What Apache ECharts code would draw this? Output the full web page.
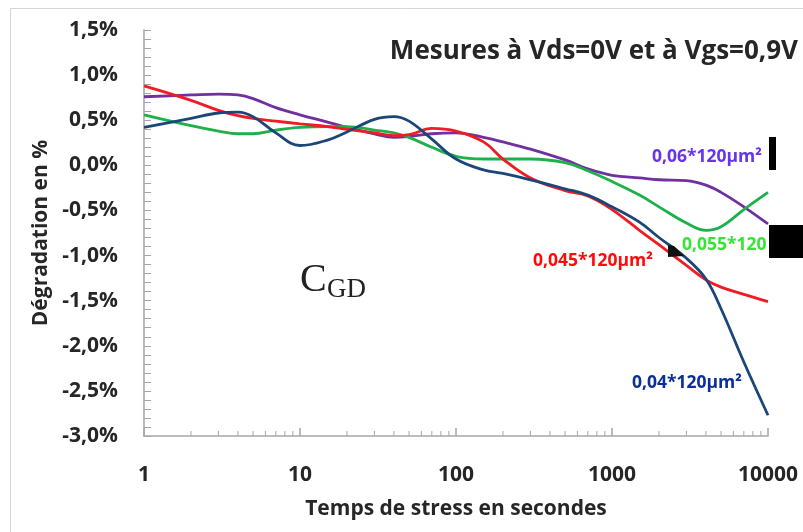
<!DOCTYPE html>
<html>
<head>
<meta charset="utf-8">
<script src="https://cdn.jsdelivr.net/npm/echarts@6/dist/echarts.min.js"></script>
<style>
html,body{margin:0;padding:0;background:#fff;}
#chart{width:803px;height:532px;}
</style>
</head>
<body>
<div id="chart"></div>
<script>
// ---- data (degradation in %) ----
const times = [1,2,3,4,5,7,10,15,20,30,40,50,70,100,150,200,300,500,700,1000,1500,2000,3000,4000,5000,7000,10000];
const s060 = [0.76,0.78,0.79,0.78,0.74,0.64,0.56,0.48,0.42,0.35,0.31,0.32,0.35,0.36,0.31,0.26,0.18,0.06,-0.04,-0.11,-0.14,-0.16,-0.17,-0.22,-0.30,-0.46,-0.65];
const s045 = [0.88,0.72,0.61,0.55,0.52,0.49,0.46,0.43,0.40,0.36,0.33,0.34,0.41,0.38,0.26,0.07,-0.14,-0.28,-0.34,-0.49,-0.72,-0.88,-1.11,-1.27,-1.35,-1.43,-1.51];
const s055 = [0.56,0.44,0.38,0.35,0.35,0.39,0.42,0.43,0.43,0.39,0.36,0.31,0.20,0.10,0.07,0.07,0.07,0.03,-0.06,-0.18,-0.33,-0.46,-0.64,-0.72,-0.68,-0.49,-0.30];
const s040 = [0.42,0.52,0.58,0.59,0.54,0.36,0.22,0.28,0.37,0.51,0.54,0.49,0.29,0.07,-0.05,-0.09,-0.16,-0.26,-0.33,-0.46,-0.63,-0.80,-1.03,-1.26,-1.59,-2.18,-2.77];
const seriesNames = ['0,06*120µm²','0,045*120µm²','0,055*120','0,04*120µm²'];
const minorTimes = [2,3,4,5,6,7,8,9,20,30,40,50,60,70,80,90,200,300,400,500,600,700,800,900,2000,3000,4000,5000,6000,7000,8000,9000];
const yMin = -3, yMax = 1.5, yStep = 0.5;

const FONT = '"Open Sans", "DejaVu Sans", sans-serif';
const TXT = '#262626';
const AX = '#A6A6A6';

function pair(arr){ return times.map((t,i)=>[t, arr[i]]); }
function lineSeries(name, arr, color){
  return {name:name, type:'line', data:pair(arr), smooth:0.4, showSymbol:false,
          lineStyle:{color:color, width:2.8}, itemStyle:{color:color}, z:3, silent:true};
}

const chart = echarts.init(document.getElementById('chart'), null, {renderer:'canvas'});
chart.setOption({
  animation:false,
  backgroundColor:'#fff',
  grid:{left:144, right:35, top:30, bottom:96, containLabel:false},
  xAxis:{
    type:'log', logBase:10, min:1, max:10000,
    name:'Temps de stress en secondes', nameLocation:'middle', nameGap:63,
    nameTextStyle:{fontFamily:FONT, fontWeight:'bold', fontSize:21, color:TXT},
    axisLine:{show:true, onZero:false, lineStyle:{color:AX, width:1.5}},
    axisTick:{show:true, inside:true, length:8, lineStyle:{color:AX, width:1.5}},
    axisLabel:{fontFamily:FONT, fontWeight:'bold', fontSize:21, color:TXT, margin:29,
               formatter:(v)=>String(Math.round(v))},
    splitLine:{show:false}, minorSplitLine:{show:false}
  },
  yAxis:{
    type:'value', min:yMin, max:yMax, interval:yStep,
    name:'Dégradation en %', nameLocation:'middle', nameGap:92, nameRotate:90,
    nameTextStyle:{fontFamily:FONT, fontWeight:'bold', fontSize:21, color:TXT},
    axisLine:{show:true, onZero:false, lineStyle:{color:AX, width:1.5}},
    axisTick:{show:true, inside:true, length:7, lineStyle:{color:AX, width:1}},
    minorTick:{show:true, splitNumber:5, length:7, lineStyle:{color:AX, width:1}},
    axisLabel:{fontFamily:FONT, fontWeight:'bold', fontSize:21, color:TXT, margin:26,
               formatter:(v)=>v.toFixed(1).replace('.', ',')+'%'},
    splitLine:{show:false}
  },
  series:[
    lineSeries(seriesNames[0], s060, '#7030A0'),
    lineSeries(seriesNames[2], s055, '#1DB04B'),
    lineSeries(seriesNames[1], s045, '#F01C24'),
    lineSeries(seriesNames[3], s040, '#1B4778'),
    {type:'custom', silent:true, z:2,
     data:minorTimes.map(t=>[t, yMin]),
     renderItem:function(params, api){
       const p = api.coord([api.value(0), api.value(1)]);
       return {type:'line', shape:{x1:p[0], y1:p[1], x2:p[0], y2:p[1]-5},
               style:{stroke:AX, lineWidth:1}};
     }}
  ],
  graphic:[
    {type:'rect', shape:{x:10.5, y:8.5, width:820, height:560}, style:{fill:null, stroke:'#D6D6D6', lineWidth:1}, silent:true, z:0},
    {type:'text', x:798, y:52, style:{text:'Mesures à Vds=0V et à Vgs=0,9V', font:'bold 26px '+FONT, fill:TXT, textAlign:'right', textVerticalAlign:'middle'}},
    {type:'text', x:300, y:280, style:{text:'C', font:'40px "Liberation Serif", "DejaVu Serif", serif', fill:'#222', textAlign:'left', textVerticalAlign:'middle'}},
    {type:'text', x:327, y:290, style:{text:'GD', font:'27px "Liberation Serif", "DejaVu Serif", serif', fill:'#222', textAlign:'left', textVerticalAlign:'middle'}},
    {type:'text', x:652, y:157, style:{text:seriesNames[0], font:'bold 17.5px '+FONT, fill:'#6633EE', textAlign:'left', textVerticalAlign:'middle'}},
    {type:'text', x:682, y:245, style:{text:seriesNames[2], font:'bold 17.5px '+FONT, fill:'#33E633', textAlign:'left', textVerticalAlign:'middle'}},
    {type:'text', x:533, y:261, style:{text:seriesNames[1], font:'bold 17.5px '+FONT, fill:'#FF0A0A', textAlign:'left', textVerticalAlign:'middle'}},
    {type:'text', x:632, y:383, style:{text:seriesNames[3], font:'bold 17.5px '+FONT, fill:'#0A2F9A', textAlign:'left', textVerticalAlign:'middle'}},
    {type:'rect', shape:{x:769, y:137, width:7, height:33}, style:{fill:'#000'}, z:10},
    {type:'rect', shape:{x:769, y:225, width:34, height:33}, style:{fill:'#000'}, z:10},
    {type:'polygon', shape:{points:[[668,245],[674,246],[684,256],[668,257]]}, style:{fill:'#111'}, z:10}
  ]
});
</script>
</body>
</html>
